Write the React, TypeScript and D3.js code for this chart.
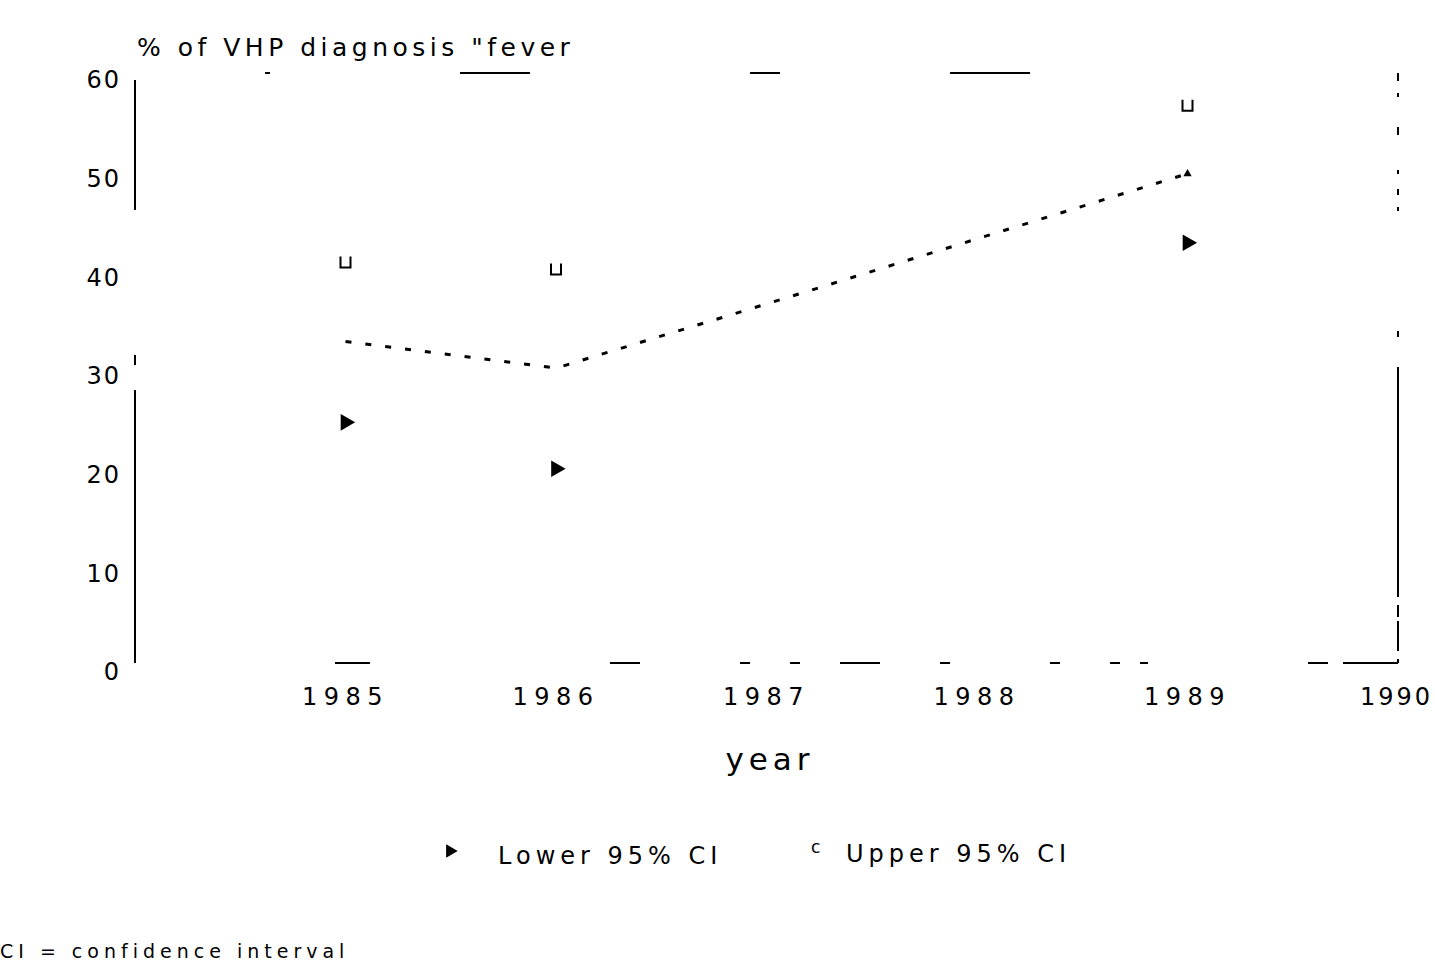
import React from 'react';
import * as d3 from 'd3';

// values
const years = [1985, 1986, 1987, 1988, 1989];
const lowerCI = [25.3, 20.6, null, null, 43.5];
const upperCI = [41.5, 40.8, null, null, 57.4];
const estimate = [33.5, 30.8, 37.3, 43.9, 50.5];
const yTicks = [0, 10, 20, 30, 40, 50, 60];
const xTicks = [1985, 1986, 1987, 1988, 1989, 1990];

const W = 1435;
const H = 967;
const margin = { left: 135, right: 37 };

const font = '"DejaVu Sans", "Liberation Sans", sans-serif';

const App = () => {
  const x = d3
    .scaleLinear()
    .domain([1984, 1990])
    .range([margin.left, W - margin.right]);
  const y = d3
    .scaleLinear()
    .domain([0, 60])
    .range([672, 80]);

  const x0 = x(1984);
  const x1 = x(1990);
  const yTop = y(60) - 7;
  const yBot = y(0) - 9;

  const line = d3
    .line<number>()
    .x((d, i) => x(years[i]))
    .y((d) => y(d));

  const tri = d3.symbol().type(d3.symbolTriangle).size(120)();
  const small = d3.symbol().type(d3.symbolTriangle).size(30)();

  return (
    <svg
      width={W}
      height={H}
      style={{ position: 'absolute', left: 0, top: 0, background: 'white' }}
      fontFamily={font}
    >
      {/* frame, broken up like the scan */}
      <line x1={x0} x2={x0} y1={y(60)} y2={yBot} stroke="#000" strokeWidth={2} strokeDasharray="130 145 10 25 400" />
      <line x1={x1} x2={x1} y1={yTop} y2={yBot} stroke="#000" strokeWidth={2} strokeDasharray="8 12 4 30 8 35 4 15 6 12 4 120 6 30 230" />
      <line x1={x0} x2={x1} y1={yTop} y2={yTop} stroke="#000" strokeWidth={2} strokeDasharray="0 130 5 190 70 220 30 170 80 400" />
      <line x1={x0} x2={x1} y1={yBot} y2={yBot} stroke="#000" strokeWidth={2} strokeDasharray="0 200 35 240 30 100 10 40 10 40 40 60 10 100 10 50 10 20 8 160 20 15 8" />

      {/* estimate line */}
      <path d={line(estimate) || ''} fill="none" stroke="#000" strokeWidth={3} strokeDasharray="6 14" />
      <path d={small} transform={`translate(${x(1989)},${y(estimate[4])})`} fill="#000" />

      {/* CI markers */}
      {years.map((yr, i) =>
        lowerCI[i] == null ? null : (
          <path key={'l' + yr} d={tri} transform={`translate(${x(yr)},${y(lowerCI[i] as number)}) rotate(90)`} fill="#000" />
        )
      )}
      {years.map((yr, i) =>
        upperCI[i] == null ? null : (
          <path
            key={'u' + yr}
            d={`M-5,-6 L-5,5 L5,5 L5,-6`}
            transform={`translate(${x(yr)},${y(upperCI[i] as number)})`}
            fill="none"
            stroke="#000"
            strokeWidth={2}
          />
        )
      )}

      {/* y axis labels */}
      {yTicks.map((t) => (
        <text key={t} x={x0 - 14} y={y(t)} dy="0.35em" textAnchor="end" fontSize={24} letterSpacing={2}>
          {t}
        </text>
      ))}

      {/* x axis labels */}
      {xTicks.map((t) => (
        <text
          key={t}
          x={t === 1990 ? W - 2 : x(t)}
          y={697}
          dy="0.35em"
          textAnchor={t === 1990 ? 'end' : 'middle'}
          fontSize={24}
          letterSpacing={t === 1990 ? 3 : 6.5}
        >
          {t}
        </text>
      ))}

      <text x={x0 + 2} y={56} fontSize={25} letterSpacing={4.5}>
        % of VHP diagnosis "fever
      </text>

      <text x={770} y={770} textAnchor="middle" fontSize={31} letterSpacing={5}>
        year
      </text>

      {/* legend */}
      <path d={tri} transform="translate(450,851) rotate(90) scale(0.8)" fill="#000" />
      <text x={498} y={864} fontSize={24} letterSpacing={5}>
        Lower 95% CI
      </text>
      <text x={811} y={853} fontSize={17}>
        c
      </text>
      <text x={846} y={862} fontSize={24} letterSpacing={5}>
        Upper 95% CI
      </text>

      <text x={0} y={958} fontSize={19} letterSpacing={5}>
        CI = confidence interval
      </text>
    </svg>
  );
};

export default App;
